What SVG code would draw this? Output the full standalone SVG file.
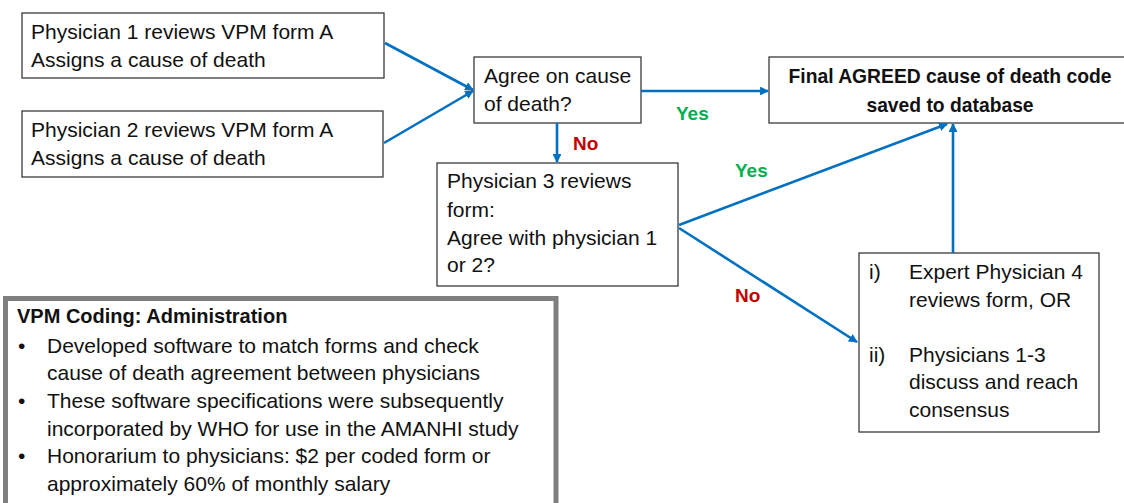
<svg xmlns="http://www.w3.org/2000/svg" width="1124" height="503" viewBox="0 0 1124 503">
<style>
.box{fill:#fff;stroke:#3a3a3a;stroke-width:1.3}
.t{font-family:"Liberation Sans",Arial,sans-serif;font-size:21px;fill:#111}
.b{font-weight:bold;font-size:19.3px}
.c{fill:none;stroke:#0070C0;stroke-width:2.6}
.yes{font-family:"Liberation Sans",Arial,sans-serif;font-size:19px;font-weight:bold;fill:#00B050}
.no{font-family:"Liberation Sans",Arial,sans-serif;font-size:19px;font-weight:bold;fill:#C00000}
</style>
<defs>
<marker id="ah" viewBox="0 0 10 10" refX="9" refY="5" markerWidth="3.4" markerHeight="3.4" orient="auto" markerUnits="strokeWidth">
<path d="M0,0 L10,5 L0,10 z" fill="#0070C0"/>
</marker>
</defs>
<rect width="1124" height="503" fill="#fff"/>
<g id="p1">
<rect class="box" x="22" y="13" width="362" height="65"/>
<text class="t" x="31" y="39">Physician 1 reviews VPM form A</text>
<text class="t" x="31" y="67">Assigns a cause of death</text>
</g>
<g id="p2">
<rect class="box" x="22" y="111" width="361" height="66"/>
<text class="t" x="31" y="137">Physician 2 reviews VPM form A</text>
<text class="t" x="31" y="165">Assigns a cause of death</text>
</g>
<g id="agree">
<rect class="box" x="474" y="57" width="167" height="66"/>
<text class="t" x="484" y="83">Agree on cause</text>
<text class="t" x="484" y="111">of death?</text>
</g>
<g id="final">
<rect class="box" x="769" y="57" width="360" height="66"/>
<text class="t b" x="950" y="83" text-anchor="middle">Final AGREED cause of death code</text>
<text class="t b" x="950" y="112" text-anchor="middle">saved to database</text>
</g>
<g id="p3">
<rect class="box" x="437" y="163" width="241" height="123"/>
<text class="t" x="447" y="188">Physician 3 reviews</text>
<text class="t" x="447" y="217">form:</text>
<text class="t" x="447" y="245">Agree with physician 1</text>
<text class="t" x="447" y="272">or 2?</text>
</g>
<g id="expert">
<rect class="box" x="859" y="253" width="240" height="179"/>
<text class="t" x="869" y="279">i)</text>
<text class="t" x="909" y="279">Expert Physician 4</text>
<text class="t" x="909" y="307">reviews form, OR</text>
<text class="t" x="869" y="362">ii)</text>
<text class="t" x="909" y="362">Physicians 1-3</text>
<text class="t" x="909" y="389">discuss and reach</text>
<text class="t" x="909" y="417">consensus</text>
</g>
<g id="vpm">
<rect x="5.5" y="298.5" width="550.5" height="220" fill="#fff" stroke="#7f7f7f" stroke-width="5"/>
<text class="t b" x="17" y="323" style="font-size:20px">VPM Coding: Administration</text>
<text class="t" x="18" y="353">•</text>
<text class="t" x="47" y="353">Developed software to match forms and check</text>
<text class="t" x="47" y="380">cause of death agreement between physicians</text>
<text class="t" x="18" y="408">•</text>
<text class="t" x="47" y="408">These software specifications were subsequently</text>
<text class="t" x="47" y="436">incorporated by WHO for use in the AMANHI study</text>
<text class="t" x="18" y="463">•</text>
<text class="t" x="47" y="463">Honorarium to physicians: $2 per coded form or</text>
<text class="t" x="47" y="491">approximately 60% of monthly salary</text>
</g>
<g id="connectors">
<line class="c" x1="385" y1="43" x2="473" y2="90" marker-end="url(#ah)"/>
<line class="c" x1="384" y1="143" x2="473" y2="91" marker-end="url(#ah)"/>
<line class="c" x1="641" y1="91" x2="768" y2="91" marker-end="url(#ah)"/>
<line class="c" x1="557" y1="123" x2="557" y2="162" marker-end="url(#ah)"/>
<line class="c" x1="679" y1="225" x2="947" y2="124" marker-end="url(#ah)"/>
<line class="c" x1="679" y1="228" x2="857" y2="342" marker-end="url(#ah)"/>
<line class="c" x1="953" y1="253" x2="953" y2="124" marker-end="url(#ah)"/>
<text class="yes" x="676" y="120">Yes</text>
<text class="no" x="573" y="150">No</text>
<text class="yes" x="735" y="177">Yes</text>
<text class="no" x="735" y="302">No</text>
</g>
</svg>
